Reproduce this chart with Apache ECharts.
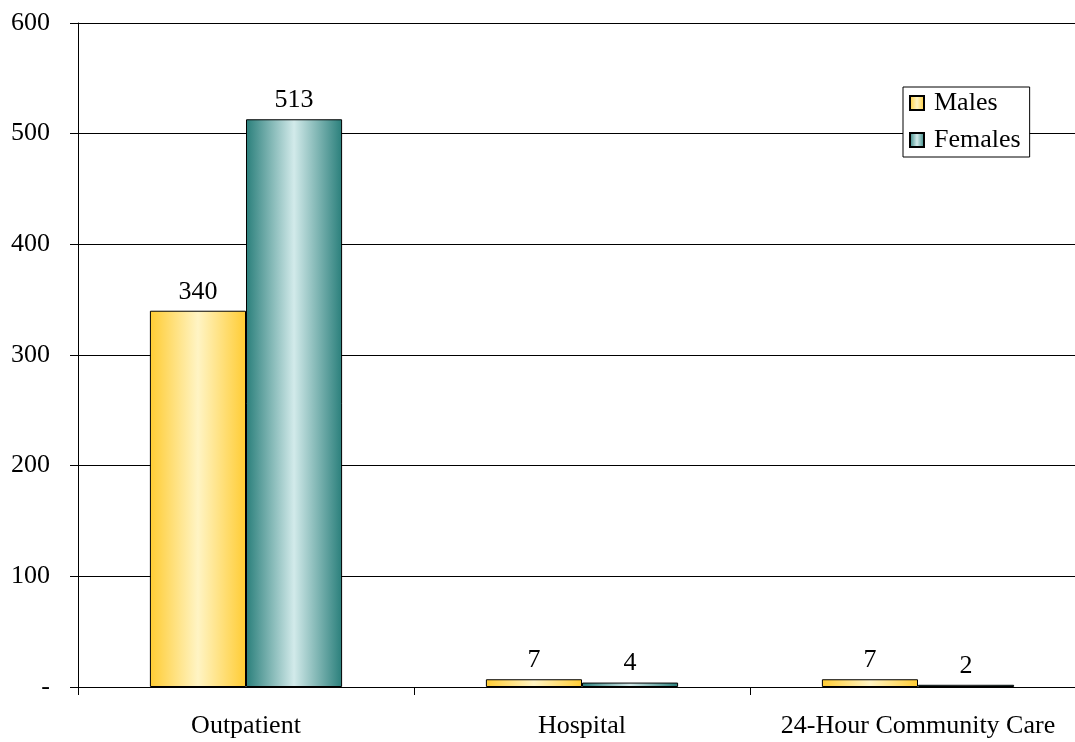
<!DOCTYPE html>
<html><head><meta charset="utf-8">
<script src="https://cdn.jsdelivr.net/npm/echarts@6/dist/echarts.min.js"></script>
<style>html,body{margin:0;padding:0;background:#fff;overflow:hidden;width:1075px;height:742px}#c{width:1087px;height:742px}</style>
</head><body><div id="c"></div>
<script>
const categories = ['Outpatient', 'Hospital', '24-Hour Community Care'];
const males = [340, 7, 7];
const females = [513, 4, 2];
const yTicks = [0, 100, 200, 300, 400, 500, 600];

const font = '"Liberation Serif", "Times New Roman", serif';
function grad(edge, mid) {
  return new echarts.graphic.LinearGradient(0, 0, 1, 0, [
    {offset: 0, color: edge}, {offset: 0.5, color: mid}, {offset: 1, color: edge}
  ]);
}
const chart = echarts.init(document.getElementById('c'));
chart.setOption({
  animation: false,
  textStyle: {fontFamily: font},
  grid: {left: 78, right: 1, top: 23, bottom: 55, containLabel: false},
  legend: {
    orient: 'vertical', left: 903, top: 87, backgroundColor: '#fff',
    borderColor: '#000', borderWidth: 1, padding: [3, 9, 4, 6], itemGap: 11,
    itemWidth: 14, itemHeight: 14, icon: 'rect',
    textStyle: {fontFamily: font, fontSize: 26, color: '#000', padding: [0, 0, 0, 5], lineHeight: 26},
    data: ['Males', 'Females']
  },
  xAxis: {
    type: 'category', data: categories,
    axisLine: {lineStyle: {color: '#000', width: 1}},
    axisTick: {show: true, length: 8, lineStyle: {color: '#000'}},
    axisLabel: {fontFamily: font, fontSize: 26, color: '#000', margin: 26, interval: 0}
  },
  yAxis: {
    type: 'value', min: yTicks[0], max: yTicks[yTicks.length - 1], interval: 100,
    axisLine: {show: true, lineStyle: {color: '#000'}},
    axisTick: {show: true, length: 8, lineStyle: {color: '#000'}},
    splitLine: {lineStyle: {color: '#000', width: 1}},
    axisLabel: {fontFamily: font, fontSize: 26, color: '#000', margin: 28,
      formatter: v => v === 0 ? '-' : String(v)}
  },
  series: [
    {name: 'Males', type: 'bar', data: males, barWidth: '28.6%', barGap: '0%',
     itemStyle: {color: grad('#FFCC33', '#FFF4C4'), borderColor: '#000', borderWidth: 1},
     label: {show: true, position: 'top', distance: 6, fontFamily: font, fontSize: 26, color: '#000'}},
    {name: 'Females', type: 'bar', data: females, barWidth: '28.6%',
     itemStyle: {color: grad('#2A7F7B', '#D2EAEA'), borderColor: '#000', borderWidth: 1},
     label: {show: true, position: 'top', distance: 6, fontFamily: font, fontSize: 26, color: '#000'}}
  ]
});
</script></body></html>
